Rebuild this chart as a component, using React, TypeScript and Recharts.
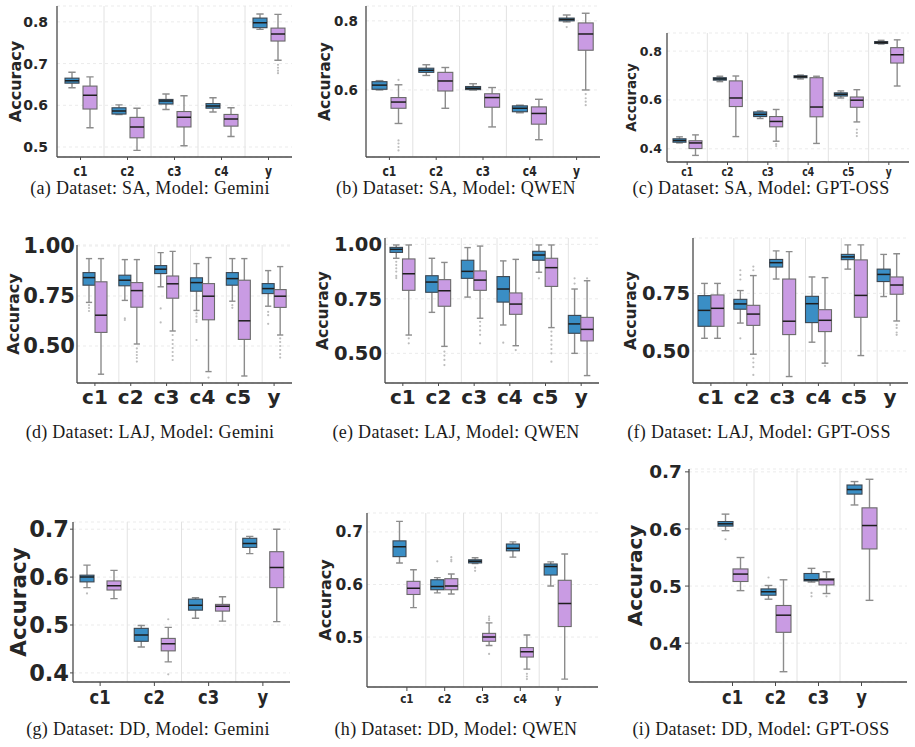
import React from "react";
import { ComposedChart, Bar, XAxis, YAxis, CartesianGrid, ReferenceLine } from "recharts";

// ---- values: each box is [whisker low, q1, median, q3, whisker high] ----
// (a) SA / Gemini
const catsA = ["c1", "c2", "c3", "c4", "y"];
const blueA = [[0.642, 0.653, 0.659, 0.665, 0.679], [0.578, 0.579, 0.586, 0.594, 0.601], [0.59, 0.603, 0.61, 0.614, 0.627], [0.584, 0.593, 0.598, 0.604, 0.618], [0.782, 0.786, 0.798, 0.809, 0.819]];
const purpleA = [[0.546, 0.591, 0.624, 0.646, 0.668], [0.492, 0.522, 0.548, 0.571, 0.593], [0.503, 0.548, 0.571, 0.585, 0.623], [0.525, 0.55, 0.567, 0.578, 0.594], [0.708, 0.754, 0.771, 0.785, 0.818]];
const blueOutA = [[], [], [], [], []];
const purpleOutA = [[], [], [], [], [0.697, 0.69, 0.683, 0.677]];

// (b) SA / QWEN
const catsB = ["c1", "c2", "c3", "c4", "y"];
const blueB = [[0.6, 0.602, 0.614, 0.624, 0.627], [0.642, 0.651, 0.657, 0.663, 0.673], [0.6, 0.601, 0.605, 0.61, 0.618], [0.534, 0.537, 0.547, 0.554, 0.556], [0.797, 0.8, 0.804, 0.808, 0.817]];
const purpleB = [[0.503, 0.547, 0.565, 0.578, 0.615], [0.547, 0.597, 0.626, 0.651, 0.665], [0.493, 0.55, 0.578, 0.589, 0.607], [0.456, 0.501, 0.532, 0.551, 0.573], [0.6, 0.715, 0.762, 0.794, 0.822]];
const blueOutB = [[], [], [], [], [0.782]];
const purpleOutB = [[0.629, 0.454, 0.445, 0.435, 0.425], [], [], [], [0.588, 0.576, 0.566, 0.556]];

// (c) SA / GPT-OSS
const catsC = ["c1", "c2", "c3", "c4", "c5", "y"];
const blueC = [[0.424, 0.427, 0.434, 0.441, 0.449], [0.675, 0.681, 0.686, 0.691, 0.697], [0.524, 0.532, 0.541, 0.551, 0.555], [0.686, 0.691, 0.695, 0.699, 0.702], [0.608, 0.616, 0.623, 0.629, 0.637], [0.829, 0.831, 0.835, 0.839, 0.844]];
const purpleC = [[0.373, 0.401, 0.424, 0.433, 0.457], [0.45, 0.573, 0.608, 0.678, 0.698], [0.431, 0.49, 0.512, 0.532, 0.561], [0.422, 0.531, 0.571, 0.691, 0.697], [0.51, 0.57, 0.599, 0.612, 0.642], [0.657, 0.751, 0.785, 0.814, 0.846]];
const blueOutC = [[], [], [], [], [], []];
const purpleOutC = [[], [], [0.419, 0.411], [], [0.479, 0.465, 0.452], []];

// (d) LAJ / Gemini
const catsD = ["c1", "c2", "c3", "c4", "c5", "y"];
const blueD = [[0.718, 0.804, 0.842, 0.867, 0.937], [0.728, 0.801, 0.829, 0.854, 0.932], [0.796, 0.862, 0.884, 0.902, 0.967], [0.678, 0.774, 0.817, 0.841, 0.912], [0.724, 0.804, 0.837, 0.867, 0.937], [0.699, 0.762, 0.787, 0.812, 0.877]];
const purpleD = [[0.359, 0.568, 0.654, 0.821, 0.937], [0.51, 0.694, 0.777, 0.817, 0.932], [0.575, 0.739, 0.811, 0.85, 0.973], [0.372, 0.631, 0.749, 0.812, 0.942], [0.35, 0.533, 0.626, 0.829, 0.937], [0.555, 0.693, 0.749, 0.782, 0.897]];
const blueOutD = [[0.704, 0.69, 0.675], [0.638, 0.63], [0.688, 0.618], [0.663, 0.648, 0.63, 0.62, 0.53], [0.704, 0.691], [0.671, 0.654, 0.611]];
const purpleOutD = [[], [0.488, 0.47, 0.455, 0.44, 0.422], [0.555, 0.53, 0.51, 0.49, 0.47, 0.45, 0.43], [0.342], [], [0.538, 0.52, 0.5, 0.48, 0.46, 0.442]];

// (e) LAJ / QWEN
const catsE = ["c1", "c2", "c3", "c4", "c5", "y"];
const blueE = [[0.936, 0.963, 0.977, 0.986, 0.997], [0.688, 0.78, 0.827, 0.856, 0.936], [0.758, 0.844, 0.876, 0.927, 0.985], [0.63, 0.735, 0.795, 0.852, 0.924], [0.872, 0.927, 0.951, 0.968, 0.997], [0.5, 0.592, 0.635, 0.674, 0.795]];
const purpleE = [[0.584, 0.789, 0.865, 0.933, 0.997], [0.532, 0.716, 0.787, 0.838, 0.917], [0.661, 0.789, 0.836, 0.878, 0.992], [0.535, 0.679, 0.726, 0.777, 0.931], [0.618, 0.807, 0.893, 0.936, 0.997], [0.398, 0.557, 0.61, 0.665, 0.833]];
const blueOutE = [[0.92, 0.905, 0.89, 0.875, 0.855, 0.845], [], [], [0.549], [0.844], [0.844, 0.82]];
const purpleOutE = [[0.569, 0.546], [0.508, 0.49, 0.47, 0.446], [0.645, 0.625, 0.605, 0.585, 0.546], [0.515], [0.6, 0.58, 0.56, 0.54, 0.52, 0.5, 0.462], [0.844]];

// (f) LAJ / GPT-OSS
const catsF = ["c1", "c2", "c3", "c4", "c5", "y"];
const blueF = [[0.555, 0.607, 0.676, 0.74, 0.793], [0.621, 0.681, 0.704, 0.724, 0.762], [0.812, 0.864, 0.883, 0.897, 0.934], [0.538, 0.623, 0.705, 0.737, 0.821], [0.855, 0.896, 0.908, 0.919, 0.96], [0.736, 0.801, 0.832, 0.855, 0.919]];
const purpleF = [[0.555, 0.607, 0.685, 0.743, 0.793], [0.486, 0.611, 0.66, 0.698, 0.827], [0.389, 0.571, 0.629, 0.812, 0.931], [0.447, 0.584, 0.633, 0.679, 0.818], [0.48, 0.646, 0.741, 0.895, 0.96], [0.63, 0.746, 0.786, 0.821, 0.922]];
const blueOutF = [[], [0.85, 0.83, 0.81, 0.555], [], [], [], []];
const purpleOutF = [[], [0.866, 0.85, 0.468, 0.45, 0.43, 0.396], [], [0.435], [], [0.613, 0.6, 0.58, 0.57]];

// (g) DD / Gemini
const catsG = ["c1", "c2", "c3", "y"];
const blueG = [[0.578, 0.59, 0.6, 0.604, 0.625], [0.454, 0.466, 0.479, 0.493, 0.499], [0.514, 0.531, 0.541, 0.554, 0.557], [0.649, 0.662, 0.67, 0.681, 0.685]];
const purpleG = [[0.555, 0.573, 0.582, 0.592, 0.614], [0.423, 0.446, 0.461, 0.472, 0.495], [0.508, 0.529, 0.539, 0.543, 0.559], [0.507, 0.578, 0.62, 0.653, 0.7]];
const blueOutG = [[0.566], [], [], []];
const purpleOutG = [[], [0.512, 0.397], [], []];

// (h) DD / QWEN
const catsH = ["c1", "c2", "c3", "c4", "y"];
const blueH = [[0.641, 0.653, 0.672, 0.683, 0.72], [0.584, 0.59, 0.596, 0.609, 0.613], [0.64, 0.641, 0.644, 0.647, 0.651], [0.652, 0.664, 0.669, 0.677, 0.681], [0.597, 0.618, 0.634, 0.639, 0.643]];
const purpleH = [[0.556, 0.581, 0.593, 0.606, 0.628], [0.582, 0.59, 0.597, 0.611, 0.62], [0.484, 0.492, 0.5, 0.507, 0.527], [0.439, 0.462, 0.472, 0.48, 0.504], [0.42, 0.52, 0.564, 0.608, 0.658]];
const blueOutH = [[], [0.644], [0.632, 0.626], [], []];
const purpleOutH = [[], [0.652, 0.647, 0.644], [0.539, 0.535, 0.532, 0.468], [0.43, 0.425, 0.42], []];

// (i) DD / GPT-OSS
const catsI = ["c1", "c2", "c3", "y"];
const blueI = [[0.597, 0.605, 0.609, 0.613, 0.626], [0.477, 0.484, 0.49, 0.495, 0.501], [0.507, 0.509, 0.511, 0.522, 0.531], [0.642, 0.661, 0.669, 0.677, 0.683]];
const purpleI = [[0.492, 0.508, 0.521, 0.53, 0.55], [0.35, 0.419, 0.449, 0.466, 0.511], [0.487, 0.502, 0.511, 0.513, 0.525], [0.475, 0.565, 0.606, 0.637, 0.687]];
const blueOutI = [[0.582], [0.515], [0.488, 0.482], []];
const purpleOutI = [[], [], [0.482], []];

// tick values
const ticksA = [0.5, 0.6, 0.7, 0.8];
const ticksB = [0.6, 0.8];
const ticksC = [0.4, 0.6, 0.8];
const ticksD = [0.5, 0.75, 1.0];
const ticksE = [0.5, 0.75, 1.0];
const ticksF = [0.5, 0.75];
const ticksG = [0.4, 0.5, 0.6, 0.7];
const ticksH = [0.5, 0.6, 0.7];
const ticksI = [0.4, 0.5, 0.6, 0.7];

// ---- styles ----
const BLUE = "#3a8ec5";
const PURPLE = "#c99be3";
const BOLD = "'DejaVu Sans', sans-serif";
const MT = 16;
const MR = 4;
const XH = 42;

function buildRows(cats: string[], blue: number[][], purple: number[][], bo: number[][], po: number[][]) {
  return cats.map((c, i) => ({
    cat: c,
    b: [blue[i][0], blue[i][4]],
    p: [purple[i][0], purple[i][4]],
    bs: blue[i],
    ps: purple[i],
    bso: bo[i],
    pso: po[i],
  }));
}

function BoxShape(props: any) {
  const { x, y, width, height, payload, index, which, sepTop, sepBottom, sep } = props;
  const s: number[] = payload[which];
  const out: number[] = payload[which + "o"] || [];
  const top = Math.min(y, y + height);
  const h = Math.abs(height);
  const lo = s[0];
  const hi = s[4];
  const py = (v: number) => top + ((hi - v) / (hi - lo)) * h;
  const cx = x + width / 2;
  const cap = width * 0.26;
  const isBlue = which === "bs";
  const fill = isBlue ? BLUE : PURPLE;
  const edge = isBlue ? "#3c4650" : "#6a6a6a";
  const wh = "#8c8c8c";
  return (
    <g>
      {sep && index > 0 ? (
        <line x1={x} x2={x} y1={sepTop} y2={sepBottom} stroke="#e4e4e4" strokeWidth={1} />
      ) : null}
      <line x1={cx} x2={cx} y1={py(hi)} y2={py(s[3])} stroke={wh} strokeWidth={1.4} />
      <line x1={cx} x2={cx} y1={py(s[1])} y2={py(lo)} stroke={wh} strokeWidth={1.4} />
      <line x1={cx - cap} x2={cx + cap} y1={py(hi)} y2={py(hi)} stroke={wh} strokeWidth={1.4} />
      <line x1={cx - cap} x2={cx + cap} y1={py(lo)} y2={py(lo)} stroke={wh} strokeWidth={1.4} />
      <rect x={x} y={py(s[3])} width={width} height={Math.max(0.5, py(s[1]) - py(s[3]))} fill={fill} stroke={edge} strokeWidth={1.1} />
      <line x1={x} x2={x + width} y1={py(s[2])} y2={py(s[2])} stroke="#1e1e1e" strokeWidth={1.5} />
      {out.map((v, k) => (
        <circle key={k} cx={cx} cy={py(v)} r={1.1} fill="#bdbdbd" />
      ))}
    </g>
  );
}

function XTick(props: any) {
  const { x, y, payload, fs, sx } = props;
  return (
    <g transform={`translate(${x},${y})`}>
      <text
        transform={`scale(${sx},1)`}
        x={0}
        y={0}
        dy="0.71em"
        textAnchor="middle"
        fontSize={fs}
        fontWeight="bold"
        fill="#262626"
        fontFamily={BOLD}
      >
        {payload.value}
      </text>
    </g>
  );
}

type PanelCfg = {
  colLeft: number; x0: number; x1: number; y0: number; y1: number;
  rows: any[]; cats: string[];
  domain: [number, number]; ticks: number[]; dec: number;
  yFs: number; yLen: number; yGap: number; labFs: number; labX: number;
  xFs: number; xSx: number; xLen: number; xGap: number;
  padL: number; padR: number; barSize: number; barGap: number; sep: "band" | "box";
};

function Panel(c: PanelCfg) {
  const ph = c.y1 - c.y0;
  const W = c.x1 - c.colLeft + MR;
  const H = MT + ph + XH;
  const yw = c.x0 - c.colLeft;
  const boxMode = c.sep === "box";
  return (
    <div style={{ position: "absolute", left: c.colLeft, top: c.y0 - MT }}>
      <ComposedChart
        width={W}
        height={H}
        data={c.rows}
        margin={{ top: MT, right: MR, left: 0, bottom: 0 }}
        barSize={c.barSize}
        barGap={c.barGap}
      >
        <CartesianGrid vertical={false} stroke="#ebebeb" strokeDasharray="3 3" />
        {!boxMode &&
          c.cats.slice(1).map((k) => (
            <ReferenceLine key={k} x={k} position="start" stroke="#e2e2e2" strokeWidth={1} />
          ))}
        <XAxis
          dataKey="cat"
          type="category"
          height={XH}
          padding={{ left: c.padL, right: c.padR }}
          axisLine={{ stroke: "#4a4a4a", strokeWidth: 1.3 }}
          tickLine={{ stroke: "#4a4a4a" }}
          tickSize={c.xLen}
          tickMargin={c.xGap}
          interval={0}
          tick={<XTick fs={c.xFs} sx={c.xSx} />}
        />
        <YAxis
          type="number"
          width={yw}
          domain={c.domain}
          allowDataOverflow
          ticks={c.ticks}
          interval={0}
          tickFormatter={(v: number) => v.toFixed(c.dec)}
          axisLine={{ stroke: "#4a4a4a", strokeWidth: 1.3 }}
          tickLine={c.yLen > 0 ? { stroke: "#4a4a4a" } : false}
          tickSize={c.yLen}
          tickMargin={c.yGap}
          tick={{ fontSize: c.yFs, fontWeight: "bold", fill: "#262626", fontFamily: BOLD }}
          label={{
            content: () => (
              <text
                x={c.labX - c.colLeft}
                y={MT + ph / 2}
                transform={`rotate(-90 ${c.labX - c.colLeft} ${MT + ph / 2})`}
                textAnchor="middle"
                dominantBaseline="central"
                fontSize={c.labFs}
                fontWeight="bold"
                fill="#262626"
                fontFamily={BOLD}
              >
                Accuracy
              </text>
            ),
          }}
        />
        <Bar
          dataKey="b"
          isAnimationActive={false}
          shape={(p: any) => <BoxShape {...p} which="bs" sep={boxMode} sepTop={MT} sepBottom={MT + ph} />}
        />
        <Bar
          dataKey="p"
          isAnimationActive={false}
          shape={(p: any) => <BoxShape {...p} which="ps" sep={false} />}
        />
      </ComposedChart>
    </div>
  );
}

const captions = [
  { t: "(a) Dataset: SA, Model: Gemini", cx: 150, cy: 188 },
  { t: "(b) Dataset: SA, Model: QWEN", cx: 456, cy: 188 },
  { t: "(c) Dataset: SA, Model: GPT-OSS", cx: 761, cy: 188 },
  { t: "(d) Dataset: LAJ, Model: Gemini", cx: 150, cy: 432 },
  { t: "(e) Dataset: LAJ, Model: QWEN", cx: 456, cy: 432 },
  { t: "(f) Dataset: LAJ, Model: GPT-OSS", cx: 759, cy: 432 },
  { t: "(g) Dataset: DD, Model: Gemini", cx: 148, cy: 729 },
  { t: "(h) Dataset: DD, Model: QWEN", cx: 456, cy: 729 },
  { t: "(i) Dataset: DD, Model: GPT-OSS", cx: 761, cy: 729 },
];

const panels: PanelCfg[] = [
  { colLeft: 0, x0: 57, x1: 292, y0: 6, y1: 157, rows: buildRows(catsA, blueA, purpleA, blueOutA, purpleOutA), cats: catsA,
    domain: [0.476, 0.838], ticks: ticksA, dec: 1, yFs: 14, yLen: 0, yGap: 9, labFs: 16, labX: 15,
    xFs: 13.5, xSx: 0.8, xLen: 3, xGap: 6, padL: 0, padR: 0, barSize: 14, barGap: 4, sep: "band" },
  { colLeft: 305, x0: 366, x1: 600, y0: 6, y1: 157, rows: buildRows(catsB, blueB, purpleB, blueOutB, purpleOutB), cats: catsB,
    domain: [0.406, 0.843], ticks: ticksB, dec: 1, yFs: 13.5, yLen: 0, yGap: 8, labFs: 15.5, labX: 325,
    xFs: 13.5, xSx: 0.8, xLen: 3, xGap: 6, padL: 0, padR: 0, barSize: 15, barGap: 4, sep: "band" },
  { colLeft: 610, x0: 667, x1: 909, y0: 33, y1: 162, rows: buildRows(catsC, blueC, purpleC, blueOutC, purpleOutC), cats: catsC,
    domain: [0.346, 0.874], ticks: ticksC, dec: 1, yFs: 12.5, yLen: 0, yGap: 5, labFs: 13.5, labX: 631,
    xFs: 11.5, xSx: 0.8, xLen: 3, xGap: 3, padL: 0, padR: 0, barSize: 13, barGap: 3, sep: "band" },
  { colLeft: 0, x0: 77, x1: 292, y0: 245, y1: 383, rows: buildRows(catsD, blueD, purpleD, blueOutD, purpleOutD), cats: catsD,
    domain: [0.315, 1.005], ticks: ticksD, dec: 2, yFs: 21, yLen: 0, yGap: 2, labFs: 16, labX: 13,
    xFs: 20, xSx: 1, xLen: 3, xGap: 4, padL: 0, padR: 0, barSize: 12, barGap: 0, sep: "box" },
  { colLeft: 305, x0: 385, x1: 599, y0: 238, y1: 383, rows: buildRows(catsE, blueE, purpleE, blueOutE, purpleOutE), cats: catsE,
    domain: [0.364, 1.029], ticks: ticksE, dec: 2, yFs: 19.5, yLen: 0, yGap: 3, labFs: 15.5, labX: 323,
    xFs: 20, xSx: 1, xLen: 3, xGap: 4, padL: 0, padR: 0, barSize: 12.5, barGap: 0, sep: "box" },
  { colLeft: 610, x0: 693, x1: 908, y0: 238, y1: 383, rows: buildRows(catsF, blueF, purpleF, blueOutF, purpleOutF), cats: catsF,
    domain: [0.361, 0.99], ticks: ticksF, dec: 2, yFs: 19.5, yLen: 0, yGap: 3, labFs: 15.5, labX: 631,
    xFs: 20, xSx: 1, xLen: 3, xGap: 4, padL: 0, padR: 0, barSize: 13, barGap: 0, sep: "box" },
  { colLeft: 0, x0: 73, x1: 290, y0: 522, y1: 682, rows: buildRows(catsG, blueG, purpleG, blueOutG, purpleOutG), cats: catsG,
    domain: [0.381, 0.715], ticks: ticksG, dec: 1, yFs: 22.5, yLen: 3, yGap: 1, labFs: 21.5, labX: 18,
    xFs: 20, xSx: 0.82, xLen: 4, xGap: 4, padL: 0, padR: 0, barSize: 14, barGap: 13, sep: "band" },
  { colLeft: 305, x0: 367, x1: 598, y0: 513, y1: 687, rows: buildRows(catsH, blueH, purpleH, blueOutH, purpleOutH), cats: catsH,
    domain: [0.405, 0.736], ticks: ticksH, dec: 1, yFs: 15.5, yLen: 0, yGap: 4, labFs: 16, labX: 325,
    xFs: 13, xSx: 0.8, xLen: 4, xGap: 3, padL: 21, padR: 21, barSize: 13, barGap: 1, sep: "band" },
  { colLeft: 610, x0: 689, x1: 907, y0: 469, y1: 682, rows: buildRows(catsI, blueI, purpleI, blueOutI, purpleOutI), cats: catsI,
    domain: [0.332, 0.705], ticks: ticksI, dec: 1, yFs: 18.5, yLen: 4, yGap: 3, labFs: 20, labX: 635,
    xFs: 20, xSx: 0.82, xLen: 4, xGap: 4, padL: 22, padR: 24, barSize: 15, barGap: 0, sep: "band" },
];

export default function App() {
  return (
    <div style={{ position: "absolute", left: 0, top: 0, width: 915, height: 747, background: "#fff", overflow: "hidden" }}>
      {panels.map((p, i) => (
        <Panel key={i} {...p} />
      ))}
      {captions.map((c, i) => (
        <div
          key={"cap" + i}
          style={{
            position: "absolute",
            left: c.cx - 160,
            width: 320,
            top: c.cy - 11,
            height: 22,
            lineHeight: "22px",
            textAlign: "center",
            fontFamily: "'Liberation Serif', 'Times New Roman', serif",
            fontSize: 18,
            letterSpacing: "0.3px",
            color: "#1a1a1a",
            whiteSpace: "nowrap",
          }}
        >
          {c.t}
        </div>
      ))}
    </div>
  );
}
